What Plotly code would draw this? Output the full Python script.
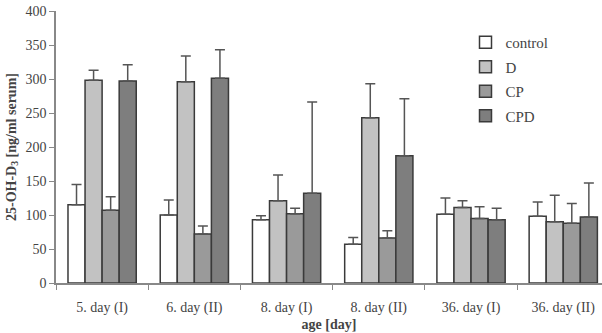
import plotly.graph_objects as go

categories = ["5. day (I)", "6. day (II)", "8. day (I)", "8. day (II)", "36. day (I)", "36. day (II)"]
series_names = ["control", "D", "CP", "CPD"]
control = [115, 100, 93, 57, 101, 98]
d_vals = [298, 296, 121, 243, 111, 90]
cp_vals = [107, 72, 102, 66, 95, 88]
cpd_vals = [297, 301, 132, 187, 93, 97]
control_err = [30, 22, 6, 10, 24, 21]
d_err = [15, 38, 38, 50, 10, 39]
cp_err = [20, 12, 8, 11, 17, 29]
cpd_err = [24, 42, 134, 84, 17, 50]

values = [control, d_vals, cp_vals, cpd_vals]
errors = [control_err, d_err, cp_err, cpd_err]
colors = ["#ffffff", "#c2c2c2", "#9a9a9a", "#7e7e7e"]

font_family = "Liberation Serif, Times New Roman, serif"

fig = go.Figure()
for name, v, e, c in zip(series_names, values, errors, colors):
    fig.add_trace(go.Bar(
        x=categories, y=v, name=name, legendgroup=name,
        marker=dict(color=c, line=dict(color="#3a3a3a", width=1.5)),
        error_y=dict(type="data", array=e, arrayminus=[0] * len(e), symmetric=False,
                     color="#555555", thickness=1.5, width=5),
    ))

fig.update_layout(
    width=602, height=333,
    margin=dict(l=56, r=0, t=11, b=50),
    paper_bgcolor="white", plot_bgcolor="white",
    barmode="group", bargap=0.26, bargroupgap=0,
    font=dict(family=font_family, size=14, color="#444444"),
    showlegend=True,
    legend=dict(x=0.75, y=0.945, xanchor="left", yanchor="top",
                traceorder="grouped", tracegroupgap=2, itemwidth=30,
                font=dict(family=font_family, size=15, color="#444444"), bgcolor="rgba(0,0,0,0)"),
    xaxis=dict(
        type="category", range=[-0.5, 5.42],
        showline=True, linecolor="#888888", linewidth=1.5,
        ticks="outside", ticklen=5, tickcolor="#888888", tickson="boundaries",
        showgrid=False, ticklabelstandoff=10,
        tickfont=dict(family=font_family, size=14, color="#444444"),
        title=dict(text="<b>age [day]</b>", font=dict(family=font_family, size=14, color="#444444"), standoff=5),
    ),
    yaxis=dict(
        range=[0, 400], dtick=50,
        showline=True, linecolor="#888888", linewidth=1.5,
        ticks="outside", ticklen=5, tickcolor="#888888",
        showgrid=False, zeroline=False,
        tickfont=dict(family=font_family, size=14, color="#444444"),
        title=dict(text="<b>25-OH-D<sub>3</sub> [ng/ml serum]</b>", font=dict(family=font_family, size=14, color="#444444"), standoff=6),
    ),
)

fig.write_html("out.html")
